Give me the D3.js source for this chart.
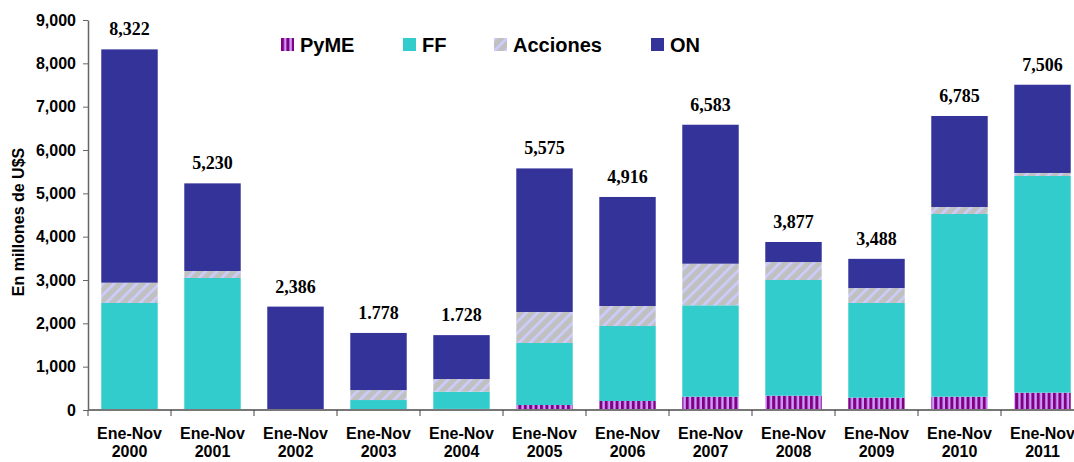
<!DOCTYPE html>
<html>
<head>
<meta charset="utf-8">
<script src="https://cdn.jsdelivr.net/npm/d3@7"></script>
<style>
  html, body { margin: 0; padding: 0; background: #fff; }
  svg { display: block; overflow: hidden; }
</style>
</head>
<body>
<div id="chart"></div>
<script>
// ---- data (millones de U$S) ----
const periods  = ['2000','2001','2002','2003','2004','2005','2006','2007','2008','2009','2010','2011'];
const pyme     = [0, 0, 0, 0, 25, 115, 208, 307, 330, 285, 307, 400];
const ff       = [2470, 3046, 0, 230, 398, 1431, 1730, 2109, 2670, 2185, 4216, 5000];
const acciones = [468, 162, 0, 230, 292, 716, 462, 960, 415, 345, 162, 70];
const on       = [5384, 2022, 2386, 1318, 1013, 3313, 2516, 3207, 462, 673, 2100, 2036];
const totals      = [8322, 5230, 2386, 1778, 1728, 5575, 4916, 6583, 3877, 3488, 6785, 7506];
const totalLabels = ['8,322','5,230','2,386','1.778','1.728','5,575','4,916','6,583','3,877','3,488','6,785','7,506'];
const yTicks   = [0, 1000, 2000, 3000, 4000, 5000, 6000, 7000, 8000, 9000];
const seriesKeys  = ['pyme', 'ff', 'acciones', 'on'];
const seriesNames = ['PyME', 'FF', 'Acciones', 'ON'];

const rows = periods.map((p, i) => ({
  period: p, pyme: pyme[i], ff: ff[i], acciones: acciones[i], on: on[i], total: totals[i], label: totalLabels[i]
}));

const W = 1074, H = 462;
const svg = d3.select('#chart').append('svg').attr('width', W).attr('height', H);

// patterns
const defs = svg.append('defs');
const pPyme = defs.append('pattern').attr('id', 'pat-pyme')
  .attr('patternUnits', 'userSpaceOnUse').attr('width', 5.4).attr('height', 10);
pPyme.append('rect').attr('width', 5.4).attr('height', 10).attr('fill', '#800080');
pPyme.append('rect').attr('x', 3).attr('width', 2.4).attr('height', 10).attr('fill', '#cc99ff');

const pAcc = defs.append('pattern').attr('id', 'pat-acc')
  .attr('patternUnits', 'userSpaceOnUse').attr('width', 8).attr('height', 8)
  .attr('patternTransform', 'rotate(45)');
pAcc.append('rect').attr('width', 8).attr('height', 8).attr('fill', '#c0c0c0');
pAcc.append('rect').attr('width', 2.6).attr('height', 8).attr('fill', '#ccccff');

const fills = { pyme: 'url(#pat-pyme)', ff: '#33cccc', acciones: 'url(#pat-acc)', on: '#333399' };

// scales
const x0 = 88, yBase = 410;
const x = d3.scaleBand().domain(periods).range([x0, x0 + 12 * 83])
  .paddingInner(0.32).paddingOuter(0.16);
const y = d3.scaleLinear().domain([0, 9000]).range([yBase, 20]);

// stacked bars
const stack = d3.stack().keys(seriesKeys)(rows);
svg.append('g').selectAll('g').data(stack).join('g')
  .attr('fill', d => fills[d.key])
  .selectAll('rect').data(d => d).join('rect')
    .attr('x', d => x(d.data.period))
    .attr('width', x.bandwidth())
    .attr('y', d => y(d[1]))
    .attr('height', d => Math.max(0, y(d[0]) - y(d[1])));

// total labels
svg.append('g').selectAll('text').data(rows).join('text')
  .attr('x', d => x(d.period) + x.bandwidth() / 2)
  .attr('y', d => y(d.total) - 14)
  .attr('text-anchor', 'middle')
  .style('font-family', '"Liberation Serif", "Times New Roman", serif')
  .style('font-weight', 'bold')
  .style('font-size', '18px')
  .text(d => d.label);

// y axis
const yAxis = svg.append('g')
  .attr('transform', `translate(${x0},0)`)
  .call(d3.axisLeft(y).tickValues(yTicks).tickSize(5).tickSizeOuter(0).tickPadding(7)
    .tickFormat(d3.format(',')));
yAxis.select('.domain').attr('stroke', '#666').attr('stroke-width', 1.5);
yAxis.selectAll('.tick line').attr('stroke', '#666');
yAxis.selectAll('text')
  .style('font-family', '"Liberation Sans", Arial, sans-serif')
  .style('font-weight', 'bold').style('font-size', '16px').attr('fill', '#000');

// x axis: baseline with ticks between categories
const xg = svg.append('g');
xg.append('line').attr('x1', x0).attr('x2', W).attr('y1', yBase).attr('y2', yBase)
  .attr('stroke', '#777').attr('stroke-width', 2);
xg.selectAll('line.sep').data(d3.range(13)).join('line').attr('class', 'sep')
  .attr('x1', i => x0 + i * x.step()).attr('x2', i => x0 + i * x.step())
  .attr('y1', yBase).attr('y2', yBase + 6).attr('stroke', '#444');
const xl = xg.selectAll('text.xl').data(periods).join('text').attr('class', 'xl')
  .attr('text-anchor', 'middle')
  .attr('x', d => x(d) + x.bandwidth() / 2)
  .style('font-family', '"Liberation Sans", Arial, sans-serif')
  .style('font-weight', 'bold').style('font-size', '16px');
xl.append('tspan').attr('x', d => x(d) + x.bandwidth() / 2).attr('y', 439).text('Ene-Nov');
xl.append('tspan').attr('x', d => x(d) + x.bandwidth() / 2).attr('y', 457).text(d => d);

// y axis title
svg.append('text')
  .attr('transform', 'translate(24,222) rotate(-90)')
  .attr('text-anchor', 'middle')
  .style('font-family', '"Liberation Sans", Arial, sans-serif')
  .style('font-weight', 'bold').style('font-size', '16px')
  .text('En millones de U$S');

// legend
const legendX = [281, 403, 494, 651];
const lg = svg.append('g').selectAll('g').data(seriesKeys).join('g')
  .attr('transform', (d, i) => `translate(${legendX[i]},38)`);
lg.append('rect').attr('width', 13).attr('height', 13).attr('fill', d => fills[d]);
lg.append('text').attr('x', 19).attr('y', 14)
  .style('font-family', '"Liberation Sans", Arial, sans-serif')
  .style('font-weight', 'bold').style('font-size', '20px')
  .text((d, i) => seriesNames[i]);
</script>
</body>
</html>
